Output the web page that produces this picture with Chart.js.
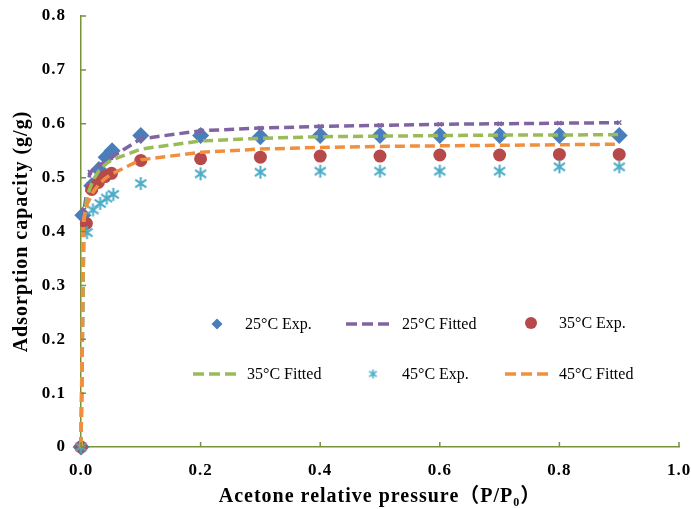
<!DOCTYPE html>
<html>
<head>
<meta charset="utf-8">
<script src="https://cdn.jsdelivr.net/npm/chart.js@4/dist/chart.umd.min.js"></script>
<style>
    body { margin: 0; background: #fff; }
    #wrap { width: 691px; height: 509px; }
</style>
</head>
<body>
<div id="wrap"><canvas id="chart" width="691" height="509"></canvas></div>
<script>
// pressure points shared by the plateau part of every series
const plateauX = [0.1, 0.2, 0.3, 0.4, 0.5, 0.6, 0.7, 0.8, 0.9];

const exp25X = [0, 0.003, 0.018, 0.03, 0.042, 0.052, ...plateauX];
const exp25Y = [0, 0.43, 0.485, 0.515, 0.538, 0.55, 0.578, 0.578, 0.576, 0.578, 0.578, 0.578, 0.578, 0.578, 0.578];

const exp35X = [0, 0.009, 0.018, 0.029, 0.04, 0.051, ...plateauX];
const exp35Y = [0, 0.415, 0.478, 0.491, 0.502, 0.508, 0.532, 0.535, 0.538, 0.54, 0.54, 0.542, 0.542, 0.543, 0.543];

const exp45X = [0, 0.01, 0.02, 0.032, 0.043, 0.054, ...plateauX];
const exp45Y = [0, 0.398, 0.44, 0.452, 0.462, 0.469, 0.489, 0.507, 0.51, 0.512, 0.512, 0.512, 0.512, 0.52, 0.52];

const fit25X = [0, 0.005, 0.015, 0.03, 0.05, ...plateauX];
const fit25Y = [0, 0.44, 0.51, 0.522, 0.537, 0.572, 0.587, 0.592, 0.595, 0.597, 0.599, 0.6, 0.601, 0.602];

const fit35X = [0, 0.005, 0.01, 0.02, 0.03, 0.04, 0.05, ...plateauX];
const fit35Y = [0, 0.42, 0.465, 0.495, 0.513, 0.524, 0.532, 0.553, 0.568, 0.573, 0.576, 0.577, 0.578, 0.579, 0.579, 0.58];

const fit45X = [0, 0.004, 0.01, 0.02, 0.03, 0.04, 0.05, ...plateauX];
const fit45Y = [0, 0.42, 0.45, 0.473, 0.488, 0.498, 0.506, 0.533, 0.547, 0.553, 0.556, 0.558, 0.559, 0.56, 0.561, 0.562];

const xTicks = [0, 0.2, 0.4, 0.6, 0.8, 1.0];
const yTicks = [0, 0.1, 0.2, 0.3, 0.4, 0.5, 0.6, 0.7, 0.8];

const axisColor = '#77933C';
const serif = '"Liberation Serif", "Times New Roman", "Noto Sans CJK SC", serif';

const pairs = (xs, ys) => xs.map((x, i) => ({ x: x, y: ys[i] }));

// Excel style "*" marker: an X with a vertical bar through it
function makeStar(size, color, width) {
    const c = document.createElement('canvas');
    c.width = size; c.height = size;
    const g = c.getContext('2d');
    const m = size / 2, r = size / 2 - 1;
    g.strokeStyle = color;
    g.lineWidth = width;
    g.beginPath();
    g.moveTo(m, m - r); g.lineTo(m, m + r);
    g.moveTo(m - r * 0.85, m - r * 0.6); g.lineTo(m + r * 0.85, m + r * 0.6);
    g.moveTo(m + r * 0.85, m - r * 0.6); g.lineTo(m - r * 0.85, m + r * 0.6);
    g.stroke();
    return c;
}

const starBig = makeStar(15, '#4BACC6', 2);
const starSmall = makeStar(11, '#4BACC6', 1.6);

const dashed = (label, xs, ys, color, extra) => Object.assign({
    label: label,
    data: pairs(xs, ys),
    showLine: true,
    borderColor: color,
    backgroundColor: color,
    borderWidth: 3.5,
    borderDash: [10, 5],
    pointRadius: 0,
    tension: 0
}, extra || {});

const datasets = [
    { label: '25°C Exp.', data: pairs(exp25X, exp25Y), pointStyle: 'rectRot', pointRadius: 8.5,
      backgroundColor: '#4A7EBB', borderColor: '#4A7EBB', borderWidth: 0 },
    dashed('25°C Fitted', fit25X, fit25Y, '#8064A2',
      { pointStyle: 'crossRot', pointRadius: 3, pointBorderWidth: 1.5 }),
    { label: '35°C Exp.', data: pairs(exp35X, exp35Y), pointStyle: 'circle', pointRadius: 6.5,
      backgroundColor: '#B8494A', borderColor: '#B8494A', borderWidth: 0 },
    dashed('35°C Fitted', fit35X, fit35Y, '#9BBB59'),
    { label: '45°C Exp.', data: pairs(exp45X, exp45Y), pointStyle: starBig, pointRadius: 7,
      backgroundColor: '#4BACC6', borderColor: '#4BACC6' },
    dashed('45°C Fitted', fit45X, fit45Y, '#F0903F')
];
// later series sit on top, like the original spreadsheet chart
datasets.forEach((d, i) => { d.order = datasets.length - i; d.clip = false; });

// legend slots inside the plot: [x of marker or line start, y, x of text]
const legendSlots = [
    [217, 324, 245],
    [346, 324, 402],
    [531, 323, 559],
    [193, 374, 247],
    [373, 374, 402],
    [505, 374, 559]
];

// the axis text in the original is spaced out a little
const spacedText = {
    id: 'spacedText',
    beforeDraw(chart) { chart.ctx.letterSpacing = '1px'; },
    afterDraw(chart) { chart.ctx.letterSpacing = '0px'; }
};

const insideTicks = {
    id: 'insideTicks',
    afterDatasetsDraw(chart) {
        const ctx = chart.ctx;
        const xs = chart.scales.x, ys = chart.scales.y;
        const area = chart.chartArea;
        ctx.save();
        ctx.strokeStyle = axisColor;
        ctx.lineWidth = 1.5;
        ctx.beginPath();
        xTicks.forEach(v => {
            const px = xs.getPixelForValue(v);
            ctx.moveTo(px, area.bottom); ctx.lineTo(px, area.bottom - 5);
        });
        yTicks.forEach(v => {
            const py = ys.getPixelForValue(v);
            ctx.moveTo(area.left, py); ctx.lineTo(area.left + 5, py);
        });
        ctx.stroke();
        ctx.restore();
    }
};

const innerLegend = {
    id: 'innerLegend',
    afterDraw(chart) {
        const ctx = chart.ctx;
        ctx.save();
        ctx.letterSpacing = '0px';
        ctx.font = '16px ' + serif;
        ctx.textBaseline = 'middle';
        ctx.fillStyle = '#000';
        datasets.forEach((d, i) => {
            const [mx, my, tx] = legendSlots[i];
            if (d.showLine) {
                ctx.strokeStyle = d.borderColor;
                ctx.lineWidth = 3.5;
                ctx.setLineDash([11, 5]);
                ctx.beginPath();
                ctx.moveTo(mx, my); ctx.lineTo(mx + 44, my);
                ctx.stroke();
                ctx.setLineDash([]);
            } else if (d.pointStyle === 'rectRot') {
                ctx.fillStyle = d.backgroundColor;
                ctx.beginPath();
                ctx.moveTo(mx - 5.5, my); ctx.lineTo(mx, my - 5.5);
                ctx.lineTo(mx + 5.5, my); ctx.lineTo(mx, my + 5.5);
                ctx.closePath(); ctx.fill();
            } else if (d.pointStyle === 'circle') {
                ctx.fillStyle = d.backgroundColor;
                ctx.beginPath();
                ctx.arc(mx, my, 6, 0, Math.PI * 2);
                ctx.fill();
            } else {
                ctx.drawImage(starSmall, mx - 5.5, my - 5.5);
            }
            ctx.fillStyle = '#000';
            ctx.fillText(d.label, tx, my + 1);
        });
        ctx.restore();
    }
};

// fixed axis boxes, and no extra room reserved for the end labels
const fixBox = size => s => {
    if (s.isHorizontal()) s.height = size; else s.width = size;
    s.paddingLeft = s.paddingRight = s.paddingTop = s.paddingBottom = 0;
};

new Chart(document.getElementById('chart'), {
    type: 'scatter',
    data: { datasets: datasets },
    plugins: [spacedText, insideTicks, innerLegend],
    options: {
        responsive: false,
        animation: false,
        devicePixelRatio: 1,
        layout: { padding: { top: 16, right: 12, left: 0, bottom: 0 } },
        plugins: { legend: { display: false }, tooltip: { enabled: false } },
        scales: {
            x: {
                type: 'linear',
                min: 0, max: 1,
                afterFit: fixBox(62),
                afterBuildTicks: s => { s.ticks = xTicks.map(v => ({ value: v })); },
                grid: { display: false, tickLength: 0 },
                border: { display: true, color: axisColor, width: 1.5 },
                ticks: {
                    padding: 13,
                    color: '#000',
                    font: { family: serif, size: 17, weight: 'bold' },
                    callback: v => v.toFixed(1)
                },
                title: {
                    display: true,
                    text: 'Acetone relative pressure（P/P₀）',
                    color: '#000',
                    font: { family: serif, size: 20, weight: 'bold' },
                    padding: { top: 0, bottom: 0 }
                }
            },
            y: {
                type: 'linear',
                min: 0, max: 0.8,
                afterFit: fixBox(81),
                afterBuildTicks: s => { s.ticks = yTicks.map(v => ({ value: v })); },
                grid: { display: false, tickLength: 0 },
                border: { display: true, color: axisColor, width: 1.5 },
                ticks: {
                    padding: 15,
                    color: '#000',
                    font: { family: serif, size: 17, weight: 'bold' },
                    callback: v => v === 0 ? '0' : v.toFixed(1)
                },
                title: {
                    display: true,
                    text: 'Adsorption capacity (g/g)',
                    color: '#000',
                    font: { family: serif, size: 20, weight: 'bold' },
                    padding: { top: 10, bottom: 0 }
                }
            }
        }
    }
});
</script>
</body>
</html>
